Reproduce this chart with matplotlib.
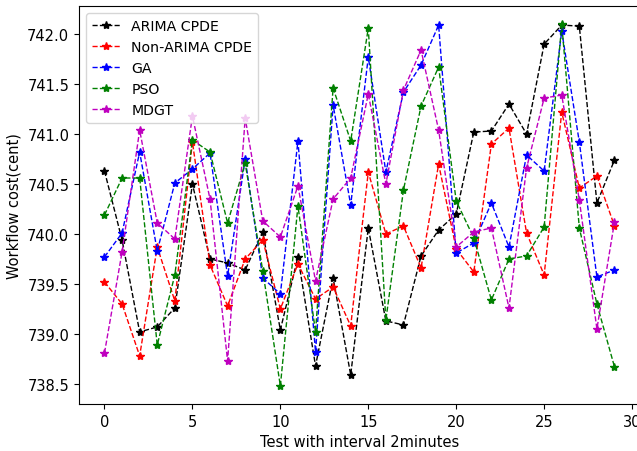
import numpy as np
import matplotlib
matplotlib.use("Agg")
import matplotlib.pyplot as plt

plt.rcParams['font.size'] = 10.5

# workflow cost per test run, 30 runs at a 2 minute interval
tests = np.arange(30)

arima_cpde = [740.63, 739.94, 739.02, 739.07, 739.26, 740.50, 739.75, 739.71, 739.64, 740.02,
              739.04, 739.77, 738.68, 739.56, 738.59, 740.06, 739.13, 739.09, 739.78, 740.04,
              740.20, 741.02, 741.03, 741.30, 741.00, 741.90, 742.09, 742.08, 740.31, 740.74]
non_arima_cpde = [739.52, 739.30, 738.78, 739.87, 739.33, 740.92, 739.69, 739.28, 739.75, 739.94,
                  739.25, 739.70, 739.35, 739.47, 739.08, 740.62, 740.00, 740.08, 739.66, 740.70,
                  739.85, 739.62, 740.90, 741.06, 740.01, 739.59, 741.22, 740.46, 740.58, 740.08]
ga = [739.77, 740.01, 740.82, 739.83, 740.51, 740.65, 740.81, 739.58, 740.75, 739.56,
      739.40, 740.93, 738.82, 741.29, 740.29, 741.77, 740.62, 741.42, 741.69, 742.09,
      739.81, 739.91, 740.31, 739.87, 740.79, 740.63, 742.03, 740.92, 739.57, 739.64]
pso = [740.19, 740.56, 740.56, 738.89, 739.59, 740.94, 740.82, 740.11, 740.71, 739.63,
       738.48, 740.28, 739.02, 741.46, 740.93, 742.06, 739.14, 740.44, 741.28, 741.67,
       740.33, 739.96, 739.34, 739.75, 739.78, 740.07, 742.10, 740.06, 739.30, 738.67]
mdgt = [738.81, 739.82, 741.04, 740.11, 739.95, 741.18, 740.35, 738.73, 741.16, 740.13,
        739.97, 740.48, 739.53, 740.35, 740.56, 741.40, 740.50, 741.44, 741.84, 741.04,
        739.87, 740.02, 740.06, 739.26, 740.66, 741.36, 741.39, 740.34, 739.05, 740.12]

fig = plt.figure(figsize=(6.37, 4.52), dpi=100)
ax = fig.add_axes([0.124, 0.104, 0.8807, 0.8805])

ax.plot(tests, arima_cpde, 'k*--', linewidth=1, label='ARIMA CPDE')
ax.plot(tests, non_arima_cpde, 'r*--', linewidth=1, label='Non-ARIMA CPDE')
ax.plot(tests, ga, 'b*--', linewidth=1, label='GA')
ax.plot(tests, pso, 'g*--', linewidth=1, label='PSO')
ax.plot(tests, mdgt, 'm*--', linewidth=1, label='MDGT')

ax.set_xlabel('Test with interval 2minutes')
ax.set_ylabel('Workflow cost(cent)')
ax.set_xticks([0, 5, 10, 15, 20, 25, 30])
ax.legend(loc='upper left', fontsize=10.2)

plt.savefig('out.png', dpi=100)
